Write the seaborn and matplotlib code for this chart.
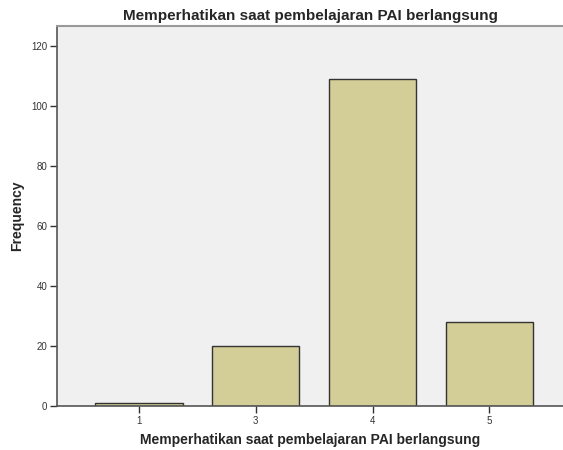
import matplotlib
matplotlib.use("Agg")
import matplotlib.pyplot as plt
import seaborn as sns
import pandas as pd

categories = ["1", "3", "4", "5"]
frequency = [1, 20, 109, 28]
y_ticks = [0, 20, 40, 60, 80, 100, 120]

title = "Memperhatikan saat pembelajaran PAI berlangsung"

df = pd.DataFrame({"Category": categories, "Frequency": frequency})

sns.set_style("white")
plt.rcParams["font.family"] = ["Liberation Sans", "DejaVu Sans"]

fig = plt.figure(figsize=(5.63, 4.5), dpi=100)
ax = fig.add_axes([57 / 563, 44 / 450, 506 / 563, 380 / 450])
ax.set_facecolor("#F0F0F0")

sns.barplot(
    data=df,
    x="Category",
    y="Frequency",
    color="#D3CE97",
    saturation=1,
    width=0.75,
    edgecolor="#333333",
    linewidth=1,
    ax=ax
)

ax.set_xlim(-0.70, 3.63)
ax.set_ylim(0, 126.7)
ax.set_yticks(y_ticks)

for side in ["left", "bottom"]:
    ax.spines[side].set_color("#555555")
    ax.spines[side].set_linewidth(1.2)
ax.spines["top"].set_color("#999999")
ax.spines["top"].set_linewidth(1.5)
ax.spines["right"].set_visible(False)

ax.tick_params(axis="both", bottom=True, left=True, length=5, width=1,
               color="#333333", labelsize=7, labelcolor="#333333",
               direction="out", pad=2)

ax.set_xlabel(title, fontsize=10, fontweight="bold", labelpad=5)
ax.set_ylabel("Frequency", fontsize=10, fontweight="bold", labelpad=5)
ax.set_title(title, fontsize=11, fontweight="bold", pad=4)

fig.savefig("out.png", dpi=100)
